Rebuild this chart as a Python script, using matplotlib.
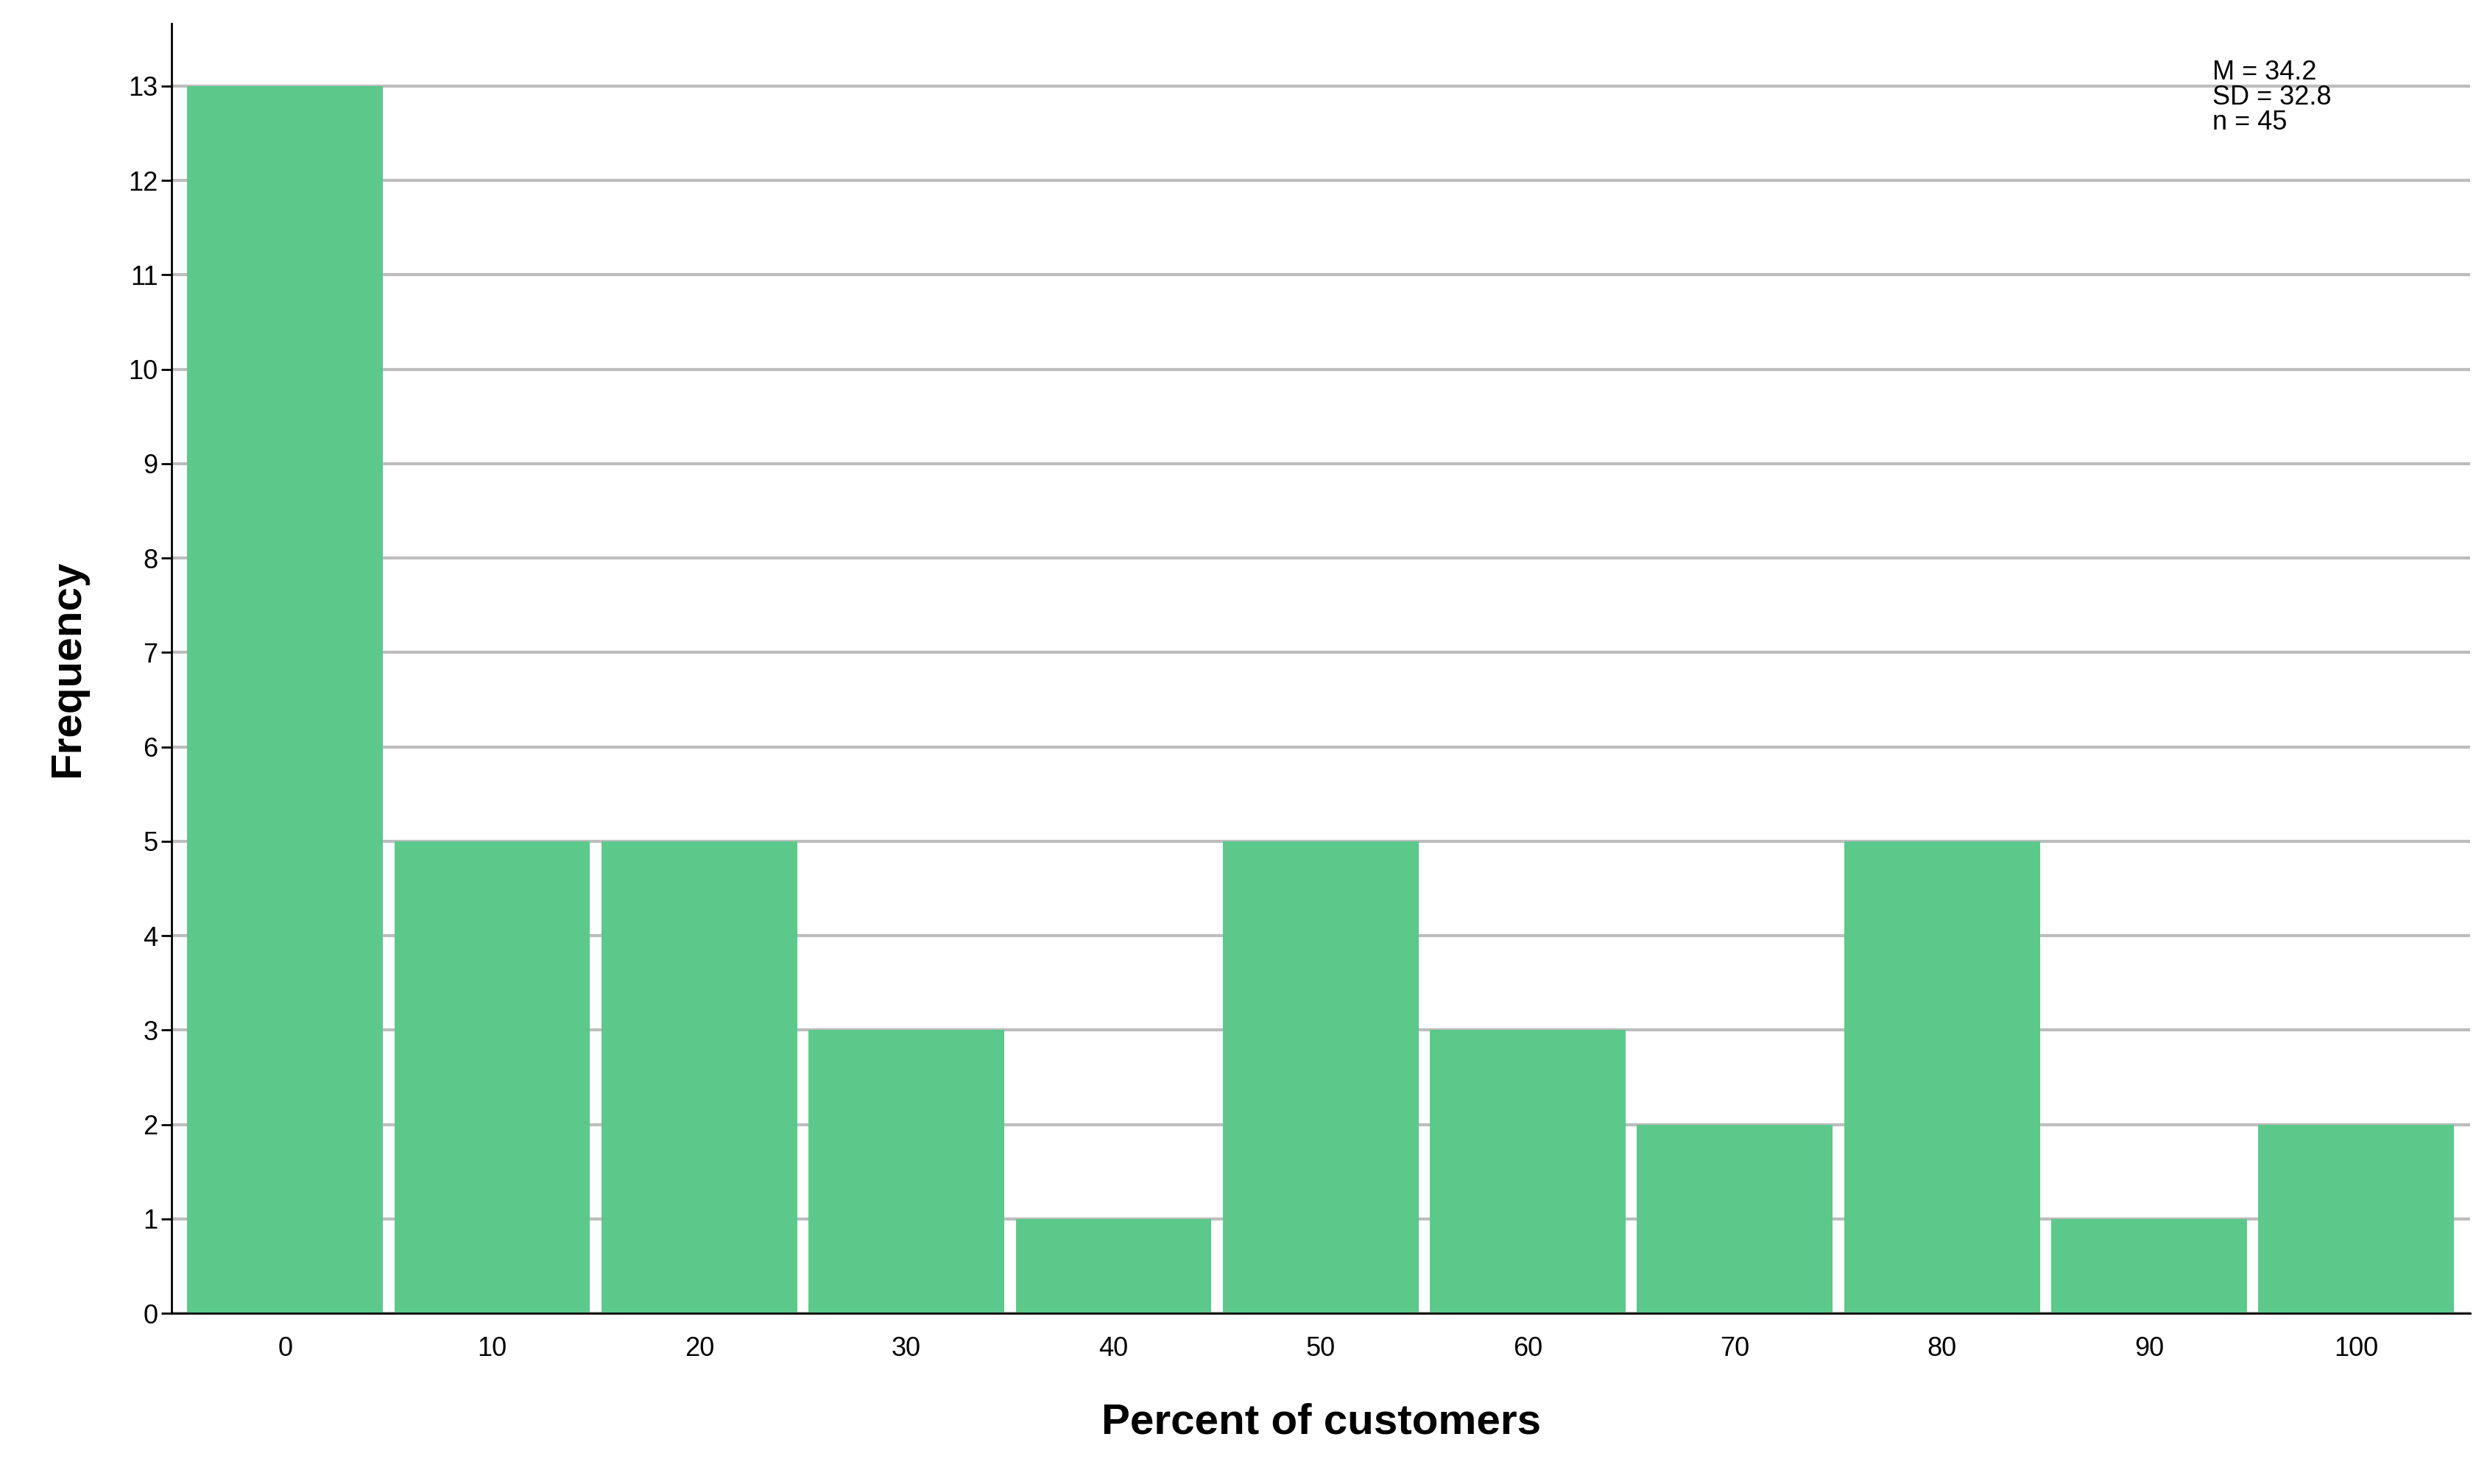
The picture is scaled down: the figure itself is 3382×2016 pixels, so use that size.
import matplotlib
matplotlib.use("Agg")
import matplotlib.pyplot as plt

bins = [0, 10, 20, 30, 40, 50, 60, 70, 80, 90, 100]
freq = [13, 5, 5, 3, 1, 5, 3, 2, 5, 1, 2]
stats_text = "M = 34.2\nSD = 32.8\nn = 45"

plt.rcParams['font.family'] = ['Liberation Sans', 'DejaVu Sans']
fig = plt.figure(figsize=(33.82, 20.16), dpi=100)
ax = fig.add_axes([0.069, 0.115, 0.923, 0.869])
ax.set_axisbelow(True)
ax.bar(bins, freq, width=9.45, color='#5BC98A', edgecolor='none', zorder=2)
ax.set_xlim(-5.47, 105.5)
ax.set_ylim(0, 13.66)
ax.set_yticks(range(0, 14))
ax.set_xticks(bins)
ax.yaxis.grid(True, color='#BDBDBD', linewidth=3)
ax.spines['top'].set_visible(False)
ax.spines['right'].set_visible(False)
ax.spines['left'].set_linewidth(2)
ax.spines['bottom'].set_linewidth(2)
ax.tick_params(axis='both', labelsize=26, length=10, width=2)
ax.tick_params(axis='x', length=0, pad=22)
ax.set_xlabel('Percent of customers', fontsize=42, fontweight='bold', labelpad=40)
ax.set_ylabel('Frequency', fontsize=42, fontweight='bold', labelpad=40)
ax.text(0.888, 0.972, stats_text, transform=ax.transAxes, fontsize=26,
        va='top', ha='left', linespacing=0.95)
fig.savefig('out.png', dpi=100)
